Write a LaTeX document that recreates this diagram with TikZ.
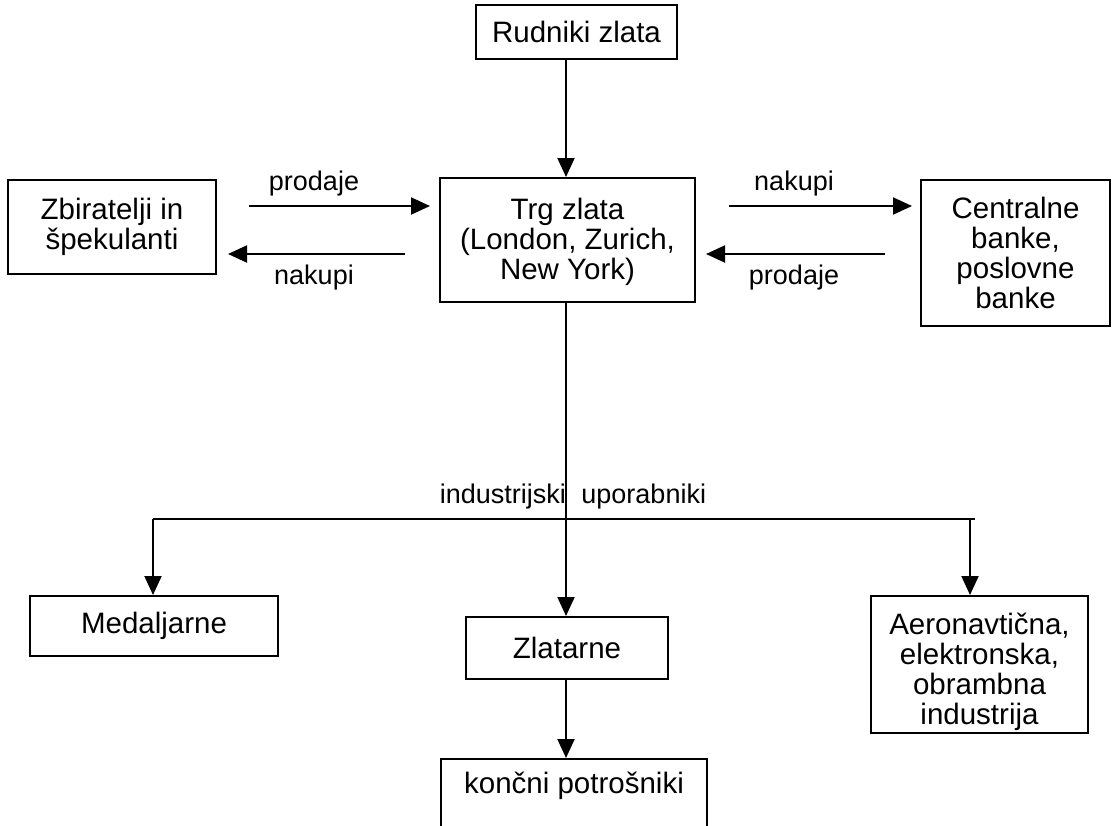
\documentclass[tikz,border=0pt]{standalone}
\usepackage{fontspec}
\setmainfont{Liberation Sans}
\usetikzlibrary{arrows.meta}
\begin{document}
\begin{tikzpicture}[x=1pt,y=-1pt,
  box/.style={draw, line width=2pt, align=center, inner sep=0pt, font=\fontsize{29.5}{30}\selectfont},
  lbl/.style={inner sep=0pt, font=\fontsize{27}{30}\selectfont},
  ln/.style={line width=2pt},
  arr/.style={line width=2pt, -{Triangle[length=19pt,width=17pt]}}]
\useasboundingbox (0,0) rectangle (1115,825);
\node[box, minimum width=201, minimum height=54] (rud) at (576.5,32) {Rudniki zlata};
\node[box, minimum width=255, minimum height=124] (trg) at (567.5,240) {\rule{0pt}{26pt}Trg zlata\\(London, Zurich,\\New York)};
\node[box, minimum width=208, minimum height=94] (zbi) at (112,227) {Zbiratelji in\\špekulanti};
\node[box, minimum width=189, minimum height=146] (cen) at (1015.5,253) {Centralne\\banke,\\poslovne\\banke};
\node[box, minimum width=248, minimum height=60] (med) at (154,626) {Medaljarne};
\node[box, minimum width=202, minimum height=62] (zla) at (567,648) {Zlatarne};
\node[box, minimum width=217, minimum height=137] (aer) at (979.5,664.5) {\rule{0pt}{36pt}Aeronavtična,\\elektronska,\\obrambna\\industrija};
\node[box, minimum width=266, minimum height=100, anchor=north] (kon) at (574,758) {};
\node[lbl, font=\fontsize{29.5}{30}\selectfont] (kont) at (574,786) {končni potrošniki};
% horizontal arrows
\coordinate (a1s) at (249,206); \coordinate (a1e) at (430,206);
\coordinate (a2s) at (405,254); \coordinate (a2e) at (228,254);
\coordinate (a3s) at (729,206); \coordinate (a3e) at (912,206);
\coordinate (a4s) at (885,254); \coordinate (a4e) at (706,254);
\draw[arr] (a1s) -- (a1e);
\draw[arr] (a2s) -- (a2e);
\draw[arr] (a3s) -- (a3e);
\draw[arr] (a4s) -- (a4e);
\node[lbl] (l1) at (314,184) {prodaje};
\node[lbl] (l2) at (314,278) {nakupi};
\node[lbl] (l3) at (794,184) {nakupi};
\node[lbl] (l4) at (794,278) {prodaje};
% vertical
\coordinate (vt) at (566,59);
\draw[arr] (vt) -- (vt |- trg.north);
\draw[arr] (vt |- trg.south) -- (vt |- zla.north);
\draw[arr] (vt |- zla.south) -- (vt |- kon.north);
\coordinate (hl) at (153,519); \coordinate (hr) at (975,519); \coordinate (hra) at (970,519);
\draw[ln] (hl) -- (hr);
\draw[arr] (hl) -- (hl |- med.north);
\draw[arr] (hra) -- (hra |- aer.north);
\node[lbl] (ind) at (573,497) {industrijski\hspace{8pt} uporabniki};
\end{tikzpicture}
\end{document}
